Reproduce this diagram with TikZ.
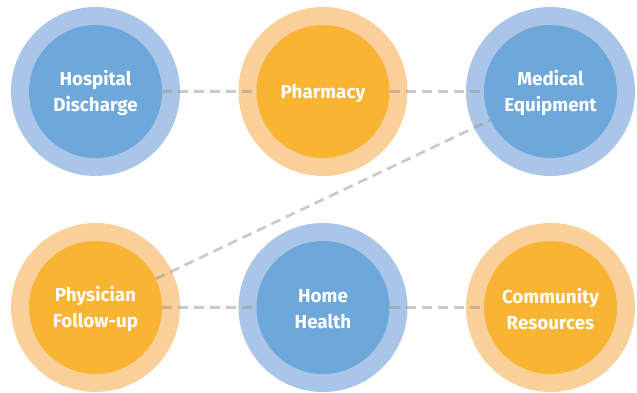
\documentclass[tikz,border=0pt]{standalone}
\usepackage{fontspec}
\setmainfont{Fira Sans}
\usetikzlibrary{backgrounds}
\definecolor{blueout}{HTML}{A9C6E8}
\definecolor{bluein}{HTML}{6EA7DA}
\definecolor{orout}{HTML}{F9CF9A}
\definecolor{orin}{HTML}{F8B432}
\definecolor{dashgray}{HTML}{959595}
\tikzset{
  hubtext/.style={text=white, align=center, inner sep=0pt, yshift=-1.5pt,
    font=\fontsize{18.8pt}{25.5pt}\selectfont\bfseries},
  hub/.style={circle, minimum size=133pt, inner sep=0pt},
  bluehub/.style={hub, fill=bluein, label={[hubtext]center:#1}},
  orhub/.style={hub, fill=orin, label={[hubtext]center:#1}},
  link/.style={draw=dashgray, opacity=0.5, line width=2.7pt, dash pattern=on 10pt off 6pt},
}
\begin{document}
\begin{tikzpicture}[x=1pt,y=-1pt]
\useasboundingbox (0,0) rectangle (637,393);
\node[bluehub={Hospital\\Discharge}] (hd) at (95.5,91.5) {};
\node[orhub={Pharmacy}] (ph) at (323,91.5) {};
\node[bluehub={Medical\\Equipment}] (me) at (550.5,91.5) {};
\node[orhub={Physician\\Follow-up}] (pf) at (95.5,307.5) {};
\node[bluehub={Home\\Health}] (hh) at (323,307.5) {};
\node[orhub={Community\\Resources}] (cr) at (550.5,307.5) {};
\begin{scope}[on background layer]
  \fill[blueout] (hd.center) circle (84.5);
  \fill[orout] (ph.center) circle (84.5);
  \fill[blueout] (me.center) circle (84.5);
  \fill[orout] (pf.center) circle (84.5);
  \fill[blueout] (hh.center) circle (84.5);
  \fill[orout] (cr.center) circle (84.5);
\end{scope}
\draw[link] (hd) -- (ph);
\draw[link] (ph) -- (me);
\draw[link] (pf) -- (me);
\draw[link] (pf) -- (hh);
\draw[link] (hh) -- (cr);
\end{tikzpicture}
\end{document}
